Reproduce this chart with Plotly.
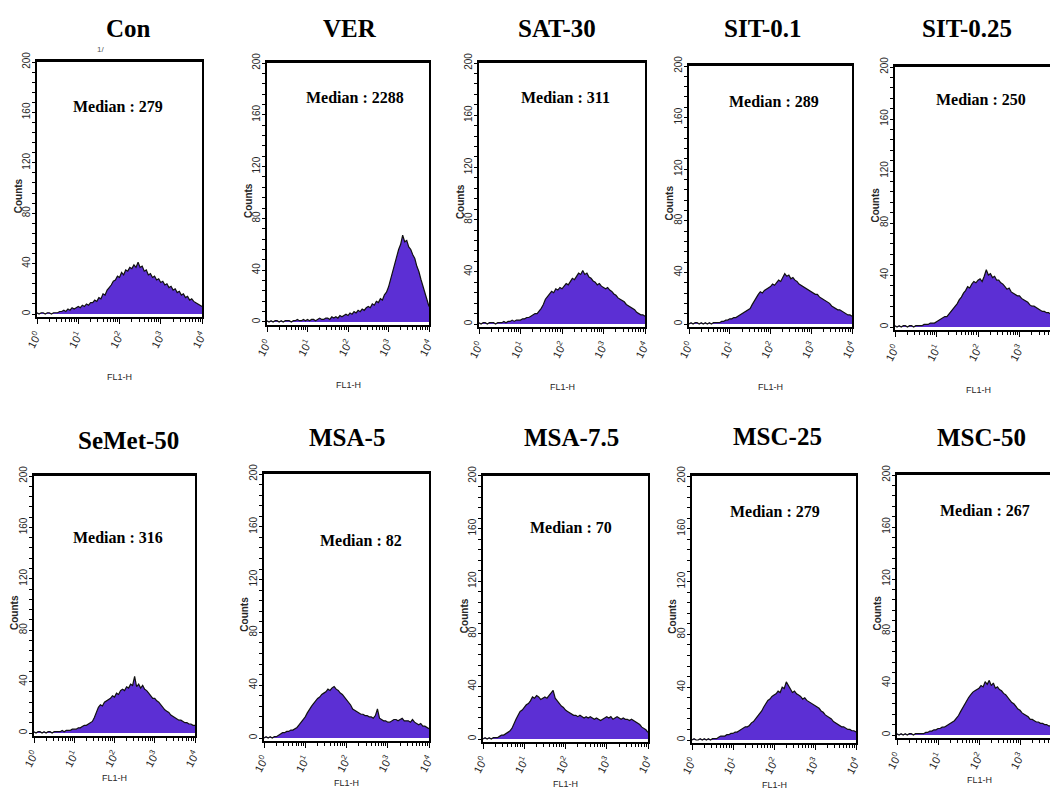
import plotly.graph_objects as go

# ---------------- data ----------------
SAMPLES = ["Con", "VER", "SAT-30", "SIT-0.1", "SIT-0.25",
           "SeMet-50", "MSA-5", "MSA-7.5", "MSC-25", "MSC-50"]
MEDIANS = [279, 2288, 311, 289, 250, 316, 82, 70, 279, 267]

# FL1-H channel positions in decades (log10), 0.05-decade bins
FL1_DECADES = [round(i * 0.05, 2) for i in range(81)]

COUNTS = {
    "Con": [1,0,1,1,0,1,1,0,1,1, 1,2,2,3,2,4,3,5,4,5, 6,5,7,6,8,7,9,9,11,10,
            13,12,16,15,19,21,23,26,27,30, 29,33,31,35,34,37,36,39,37,41,
            37,38,34,35,31,32,29,30,27,28, 25,26,23,24,21,22,19,20,17,18,
            15,16,13,14,11,12,10,9,8,7, 6],
    "VER": [1,0,1,0,1,1,0,1,0,1, 1,1,0,1,1,2,1,1,2,1, 2,1,2,2,1,2,3,2,2,3,
            3,2,4,3,4,3,5,4,5,6, 5,7,6,8,7,9,8,10,9,11,
            12,11,14,13,16,15,18,17,21,23, 27,33,40,46,52,56,60,67,62,63,
            58,56,52,49,43,39,33,28,22,17, 12],
    "SAT-30": [1,0,1,1,0,1,1,1,0,1, 1,1,2,1,2,2,3,2,3,3, 3,4,4,5,5,6,7,8,8,10,
               12,15,19,21,23,25,24,27,26,28, 27,29,31,30,33,35,34,37,39,38,
               41,38,39,36,35,33,32,30,31,29, 28,27,28,26,25,23,22,20,19,18,
               17,15,14,13,12,11,9,8,7,7, 6],
    "SIT-0.1": [0,1,0,1,1,0,1,0,1,0, 1,0,1,1,1,1,2,2,3,3, 4,4,5,5,6,7,8,9,10,11,
                12,15,18,21,23,25,24,26,27,28, 29,31,30,32,34,33,36,39,37,38,
                35,36,34,33,31,30,29,28,27,26, 25,24,23,23,21,20,19,18,17,16,
                14,13,12,11,11,10,9,8,7,7, 6],
    "SIT-0.25": [1,0,1,0,1,1,0,1,1,0, 1,1,1,1,2,2,2,3,3,3, 4,5,6,7,8,8,10,12,14,16,
                 18,21,23,26,28,31,30,33,35,34, 36,37,35,39,44,40,41,38,39,36,
                 36,34,33,31,29,30,27,26,25,24, 24,22,21,20,19,17,16,16,15,14,
                 13,12,12,11,11,10,9,9,8,8, 8],
    "SeMet-50": [1,0,1,1,0,1,0,1,1,0, 1,1,1,1,2,1,2,2,2,3, 3,3,4,4,5,6,6,7,8,9,
                 12,16,20,22,21,24,25,26,27,29, 28,31,30,33,34,33,36,35,38,37,
                 44,36,38,35,37,34,33,31,29,27, 27,25,24,22,20,18,17,16,14,13,
                 12,11,10,10,9,8,8,7,7,6, 6],
    "MSA-5": [0,1,0,1,0,1,1,2,3,4, 4,5,5,6,6,7,8,10,12,14, 16,19,22,24,26,28,30,31,33,34,
              35,37,36,38,39,37,36,34,33,31, 29,27,25,22,21,20,19,18,18,17,
              17,16,16,15,17,22,15,14,13,13, 12,12,13,14,14,13,14,15,13,13,
              13,12,14,12,11,10,11,9,9,8, 7],
    "MSA-7.5": [0,1,0,1,0,1,1,1,2,3, 3,4,5,6,8,12,15,18,21,22, 24,26,27,29,32,31,33,32,30,31,
                32,31,33,35,37,31,29,27,25,24, 22,21,20,19,18,18,17,18,17,16,
                17,16,17,16,15,16,15,14,15,16, 17,16,17,15,16,17,16,15,16,15,
                15,14,15,14,13,12,11,9,8,7, 5],
    "MSC-25": [0,1,0,0,1,0,1,0,1,0, 1,1,1,2,3,3,3,4,4,5, 5,6,6,7,8,9,10,10,11,13,
               14,16,18,20,22,25,28,30,31,33, 34,35,37,36,40,39,44,41,38,36,
               37,35,34,33,31,32,30,29,28,27, 26,25,24,22,21,19,18,17,16,14,
               13,12,11,10,10,9,8,8,7,7, 6],
    "MSC-50": [1,0,1,0,1,0,1,1,0,1, 1,1,1,1,2,2,3,3,4,4, 5,5,6,6,7,8,9,10,11,13,
               15,18,21,24,27,29,31,33,34,35, 36,38,37,41,39,42,38,40,36,37,
               35,34,32,31,29,27,25,24,22,20, 19,17,16,15,14,12,12,11,10,10,
               9,9,8,8,7,7,6,6,5,5, 5],
}

Y_TICKS = [0, 40, 80, 120, 160, 200]
X_TICKS = [1, 10, 100, 1000, 10000]
X_TICKTEXT = ["10<sup>0</sup>", "10<sup>1</sup>", "10<sup>2</sup>", "10<sup>3</sup>", "10<sup>4</sup>"]

# ---------------- layout (window pixels) ----------------
OFF = 8                      # default page body margin
W, H = 1058 - OFF, 804 - OFF  # figure size
# left, right, top(200 counts), zero line  (window pixels)
RECTS = [(37, 202, 62, 314), (267, 429, 63, 322), (479, 645, 63, 324),
         (689, 852, 66, 324), (895, 1061, 67, 327),
         (34, 195, 476, 733), (264, 429, 474, 738), (483, 648, 476, 739),
         (692, 856, 476, 740), (897, 1061, 475, 735)]
TITLE_POS = [(128, 28), (350, 28), (557, 29), (763, 29), (967, 29),
             (128, 440), (347, 438), (571, 438), (777, 436), (981, 438)]
MEDIAN_POS = [(118, 106), (355, 98), (565, 98), (774, 101), (981, 100),
              (118, 537), (361, 540), (571, 527), (775, 511), (985, 510)]
FL1_SHIFT = [-60] * 5 + [-42] * 5


def px(x):
    return (x - OFF) / W


def py(y):
    return 1 - (y - OFF) / H


PURPLE = "#5c2fd4"
GREY = "#262626"

fig = go.Figure()
layout = dict(width=W, height=H, margin=dict(l=0, r=0, t=0, b=0, autoexpand=False),
              paper_bgcolor="white", plot_bgcolor="white", showlegend=False)
annotations = []
shapes = []

minor_x = [m * 10 ** d for d in range(4) for m in range(2, 10)]

for i, name in enumerate(SAMPLES):
    k = i + 1
    xa = "xaxis" if k == 1 else f"xaxis{k}"
    ya = "yaxis" if k == 1 else f"yaxis{k}"
    xr = "x" if k == 1 else f"x{k}"
    yr = "y" if k == 1 else f"y{k}"
    l, r, t, z = RECTS[i]
    ppc = (z - t) / 200.0
    top_px = t - 1 * ppc
    bot_px = z + 2 * ppc

    fig.add_trace(go.Scatter(
        x=[10 ** d for d in FL1_DECADES], y=COUNTS[name],
        mode="lines", fill="tozeroy", fillcolor=PURPLE,
        line=dict(color="#111111", width=1.2),
        xaxis=xr, yaxis=yr, hoverinfo="skip", cliponaxis=True))

    x0d, x1d = px(l), min(px(r), 1.0)
    # when cropped at the right, keep log scale width by shrinking visible range
    full_w = (r - l)
    vis_w = (min(r, 1058) - l)
    xmax = 4.0 * vis_w / full_w
    layout[xa] = dict(
        domain=[x0d, x1d], anchor=yr, type="log", range=[0, xmax],
        automargin=False,
        tickmode="array", tickvals=X_TICKS, ticktext=X_TICKTEXT, tickangle=-62,
        ticks="outside", ticklen=6, tickcolor="black",
        tickfont=dict(family="Liberation Sans", size=11, color=GREY),
        showline=True, linecolor="black", linewidth=1.5, mirror=True,
        showgrid=False, zeroline=False,
        minor=dict(tickvals=minor_x, ticks="outside", ticklen=4, tickcolor="black", showgrid=False))
    layout[ya] = dict(
        domain=[py(bot_px), py(top_px)], anchor=xr, range=[-2, 201],
        automargin=False,
        tickmode="array", tickvals=Y_TICKS, tickangle=-90,
        ticks="outside", ticklen=3, tickcolor="black", ticklabelstandoff=-2,
        tickfont=dict(family="Liberation Sans", size=10, color=GREY),
        showline=True, linecolor="black", linewidth=1.5, mirror=True,
        showgrid=False, zeroline=False,
        minor=dict(dtick=8, ticks="outside", ticklen=3, tickcolor="black", showgrid=False))

    # thicker top border
    shapes.append(dict(type="line", xref=f"{xr} domain", yref=f"{yr} domain",
                       x0=0, x1=1, y0=1, y1=1, line=dict(color="black", width=2.5)))

    # axis titles
    annotations.append(dict(text="<b>Counts</b>", xref=f"{xr} domain", yref=f"{yr} domain",
                            x=0, y=0.47, xshift=-19, textangle=-90, showarrow=False,
                            xanchor="center", yanchor="middle",
                            font=dict(family="Liberation Sans", size=10, color=GREY)))
    annotations.append(dict(text="FL1-H", xref=f"{xr} domain", yref=f"{yr} domain",
                            x=0.5 * full_w / vis_w if vis_w < full_w else 0.5, y=0,
                            yshift=FL1_SHIFT[i],
                            showarrow=False, xanchor="center", yanchor="middle",
                            font=dict(family="Liberation Sans", size=9, color=GREY)))

    tx, ty = TITLE_POS[i]
    annotations.append(dict(text=f"<b>{name}</b>", x=px(tx), y=py(ty), xref="paper", yref="paper",
                            xanchor="center", yanchor="middle", showarrow=False,
                            font=dict(family="Liberation Serif", size=25, color="black")))
    mx, my = MEDIAN_POS[i]
    annotations.append(dict(text=f"<b>Median : {MEDIANS[i]}</b>", x=px(mx), y=py(my),
                            xref="paper", yref="paper", xanchor="center", yanchor="middle",
                            showarrow=False,
                            font=dict(family="Liberation Serif", size=16, color="black")))

annotations.append(dict(text="1/", x=px(95), y=py(43), xref="paper", yref="paper",
                        showarrow=False, font=dict(family="Liberation Sans", size=8, color="#555555")))

layout["annotations"] = annotations
layout["shapes"] = shapes
fig.update_layout(**layout)
fig.write_html("out.html")
